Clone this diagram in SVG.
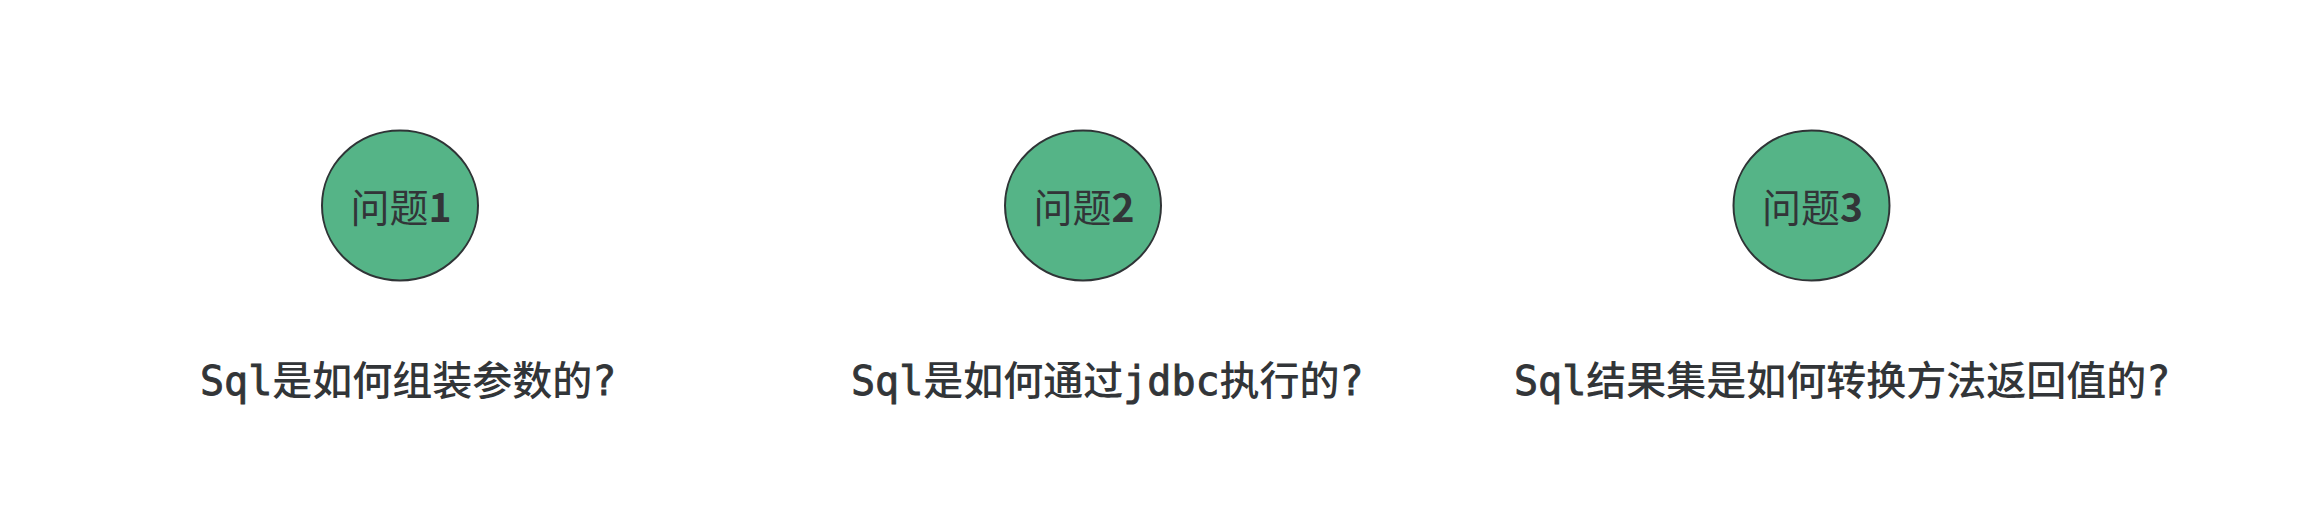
<svg xmlns="http://www.w3.org/2000/svg" width="2298" height="508" viewBox="0 0 2298 508">
<style>
.node ellipse{fill:#55b487;stroke:#2f3436;stroke-width:2}
.ntext{font-family:"Noto Sans CJK SC","Noto Sans",sans-serif;font-size:39px;fill:#323538;text-anchor:middle}
.num{font-weight:bold}
.label{font-family:"DejaVu Sans Mono","Noto Sans CJK SC",monospace;font-size:40px;fill:#323538;font-weight:500}
.lat{font-weight:normal;stroke:#323538;stroke-width:0.9}
</style>
<rect x="0" y="0" width="2298" height="508" fill="#ffffff"/>
<g id="connectors"></g>
<g id="node1" class="node">
<ellipse cx="400" cy="205.5" rx="78" ry="75"/>
<text class="ntext" x="401" y="222">问题<tspan class="num">1</tspan></text>
</g>
<g id="node2" class="node">
<ellipse cx="1083" cy="205.5" rx="78" ry="75"/>
<text class="ntext" x="1084" y="222">问题<tspan class="num">2</tspan></text>
</g>
<g id="node3" class="node">
<ellipse cx="1811.5" cy="205.5" rx="78" ry="75"/>
<text class="ntext" x="1812.5" y="222">问题<tspan class="num">3</tspan></text>
</g>
<g id="label1">
<text class="label" x="200" y="395"><tspan class="lat">Sql</tspan>是如何组装参数的<tspan class="lat">?</tspan></text>
</g>
<g id="label2">
<text class="label" x="851" y="395"><tspan class="lat">Sql</tspan>是如何通过<tspan class="lat">jdbc</tspan>执行的<tspan class="lat">?</tspan></text>
</g>
<g id="label3">
<text class="label" x="1514" y="395"><tspan class="lat">Sql</tspan>结果集是如何转换方法返回值的<tspan class="lat">?</tspan></text>
</g>
</svg>
